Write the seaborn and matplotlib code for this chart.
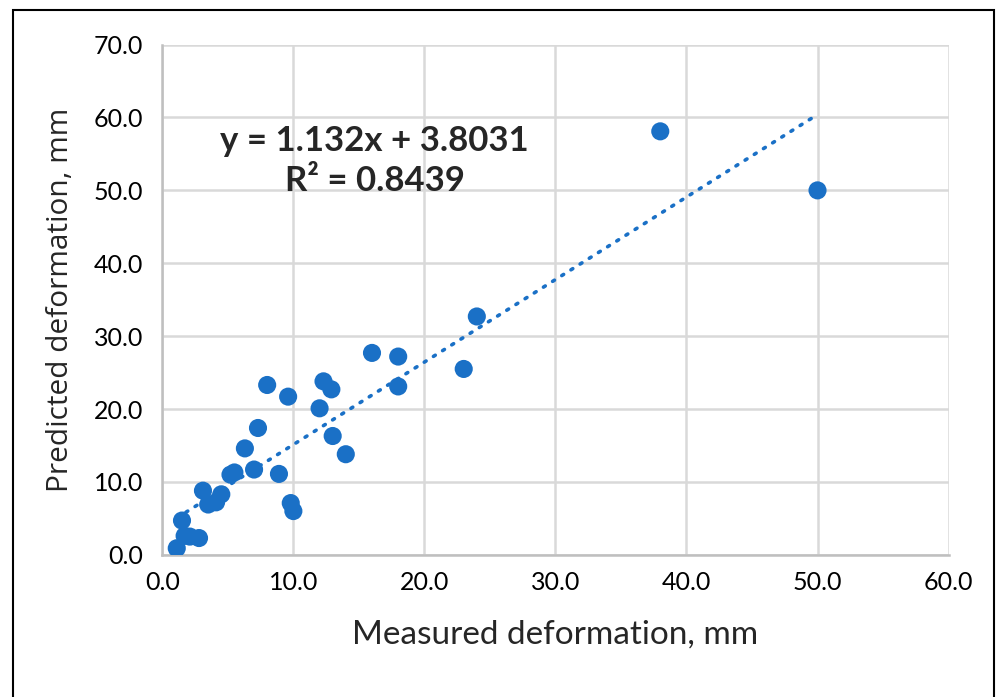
import numpy as np
import matplotlib
matplotlib.use("Agg")
import matplotlib.pyplot as plt
import seaborn as sns
from matplotlib.patches import Rectangle
from matplotlib.ticker import FormatStrFormatter

# values
measured = [1.1, 1.5, 1.7, 2.1, 2.8, 3.1, 3.5, 4.1, 4.5, 5.2, 5.5, 6.3, 7.0, 7.3, 8.0,
            8.9, 9.6, 9.8, 10.0, 12.0, 12.3, 12.9, 13.0, 14.0, 16.0, 18.0, 18.0, 23.0,
            24.0, 38.0, 50.0]
predicted = [0.9, 4.7, 2.6, 2.5, 2.3, 8.8, 6.9, 7.2, 8.3, 11.0, 11.3, 14.6, 11.7, 17.4, 23.3,
             11.1, 21.7, 7.1, 6.0, 20.1, 23.8, 22.7, 16.3, 13.8, 27.7, 27.2, 23.1, 25.5,
             32.7, 58.1, 50.0]
slope, intercept, r2 = 1.132, 3.8031, 0.8439
x_ticks = [0, 10, 20, 30, 40, 50, 60]
y_ticks = [0, 10, 20, 30, 40, 50, 60, 70]

sns.set_theme(style="whitegrid")
plt.rcParams['font.family'] = ['Lato', 'DejaVu Sans']

blue = "#1a70c6"
fig = plt.figure(figsize=(9.99, 6.97), dpi=100)
ax = fig.add_axes([0.1625, 0.204, 0.787, 0.732])

sns.scatterplot(x=measured, y=predicted, ax=ax, s=170, color=blue, edgecolor="none", zorder=3)

# trend line from fitted coefficients
xl = np.array([min(measured), max(measured)])
ax.plot(xl, slope * xl + intercept, color=blue, lw=2.6, linestyle=(0, (0.6, 2.4)),
        dash_capstyle="round", zorder=2)

ax.set_xlim(0, 60)
ax.set_ylim(0, 70)
ax.set_xticks(x_ticks)
ax.set_yticks(y_ticks)
ax.xaxis.set_major_formatter(FormatStrFormatter('%.1f'))
ax.yaxis.set_major_formatter(FormatStrFormatter('%.1f'))
ax.tick_params(axis='both', length=0, labelsize=18, colors="black")
ax.tick_params(axis='x', pad=12)
ax.tick_params(axis='y', pad=14)
ax.grid(True, color="#d9d9d9", lw=1.8)
for side in ["top", "right"]:
    ax.spines[side].set_visible(False)
for side in ["left", "bottom"]:
    ax.spines[side].set_color("#bfbfbf")
    ax.spines[side].set_linewidth(1.8)

ax.set_xlabel("Measured deformation, mm", fontsize=24, labelpad=18)
ax.set_ylabel("Predicted deformation, mm", fontsize=21.5, labelpad=13,
              family=["Open Sans", "DejaVu Sans"])

ax.text(16.2, 54.0, f"y = {slope}x + {intercept}\nR² = {r2}", ha="center", va="center",
        fontsize=25, fontweight="bold", linespacing=1.3)

fig.patches.append(Rectangle((13 / 999, -0.1), 981 / 999, 1.1 - 10 / 697,
                             transform=fig.transFigure, fill=False, ec="black", lw=1.5))

fig.savefig("out.png", dpi=100)
